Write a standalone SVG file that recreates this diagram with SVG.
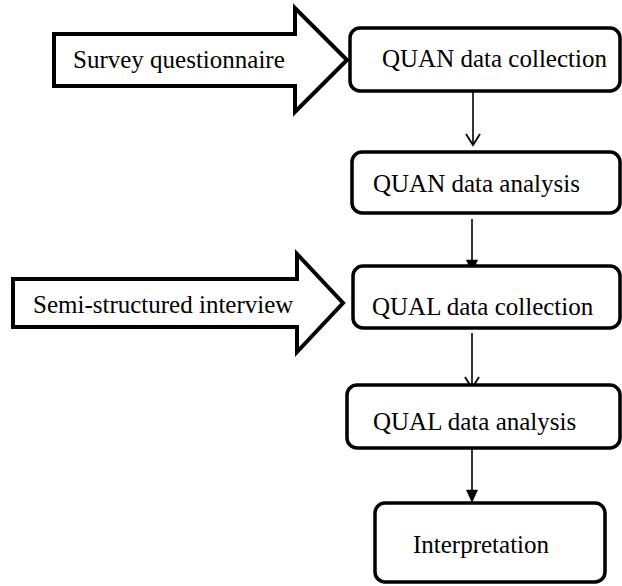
<svg xmlns="http://www.w3.org/2000/svg" width="622" height="586" viewBox="0 0 622 586">
<style>
.box{fill:#fff;stroke:#000;stroke-width:3.5}
.big{fill:#fff;stroke:#000;stroke-width:4;stroke-linejoin:miter}
.t{font-family:'Liberation Serif','Times New Roman',Times,Tinos,'DejaVu Serif',serif;font-size:25px;fill:#000}
.c{stroke:#000;stroke-width:1.6;fill:none}
</style>
<defs>
<marker id="open" markerUnits="userSpaceOnUse" markerWidth="20" markerHeight="20" refX="12" refY="8" orient="auto" viewBox="0 0 20 16">
<path d="M1,1 L12,8 L1,15" fill="none" stroke="#000" stroke-width="1.8"/>
</marker>
<marker id="fill" markerUnits="userSpaceOnUse" markerWidth="14" markerHeight="12" refX="11" refY="5" orient="auto" viewBox="0 0 11 10">
<path d="M0,0 L11,5 L0,10 Z" fill="#000"/>
</marker>
</defs>
<g id="connectors">
<line class="c" x1="473" y1="87" x2="473" y2="145" marker-end="url(#open)"/>
<line class="c" x1="472" y1="219" x2="472" y2="273" marker-end="url(#fill)"/>
<line class="c" x1="472" y1="333" x2="472" y2="388" marker-end="url(#open)"/>
<line class="c" x1="472" y1="448" x2="472" y2="503" marker-end="url(#fill)"/>
</g>
<g id="survey">
<polygon class="big" points="54,34 295,34 295,8 347,60 295,112 295,86 54,86"/>
<text class="t" x="73" y="68">Survey questionnaire</text>
</g>
<g id="interview">
<polygon class="big" points="13,279 297,279 297,254 343,303 297,352 297,327 13,327"/>
<text class="t" x="33" y="313">Semi-structured interview</text>
</g>
<g id="quan-collection">
<rect class="box" x="350" y="28" width="270" height="63" rx="10"/>
<text class="t" x="382" y="67">QUAN data collection</text>
</g>
<g id="quan-analysis">
<rect class="box" x="352" y="152" width="268" height="61" rx="10"/>
<text class="t" x="373" y="192">QUAN data analysis</text>
</g>
<g id="qual-collection">
<rect class="box" x="353" y="266" width="267" height="62" rx="10"/>
<text class="t" x="372" y="315">QUAL data collection</text>
</g>
<g id="qual-analysis">
<rect class="box" x="347" y="385" width="273" height="63" rx="10"/>
<text class="t" x="373" y="430">QUAL data analysis</text>
</g>
<g id="interpretation">
<rect class="box" x="375" y="503" width="230" height="79" rx="10"/>
<text class="t" x="413" y="553">Interpretation</text>
</g>
</svg>
